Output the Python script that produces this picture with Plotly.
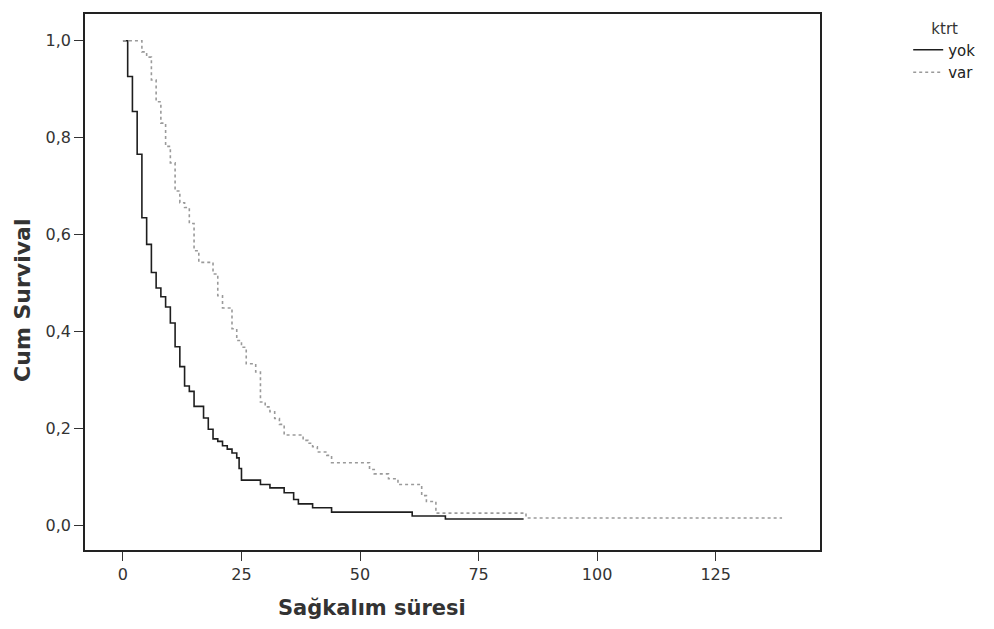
import plotly.graph_objects as go

# Kaplan-Meier step data
yok_time = [0, 1, 2, 3, 4, 5, 6, 7, 8, 9, 10, 11, 12, 13, 14, 15, 17, 18, 19, 20,
            21, 22, 23, 24, 24.5, 25, 29, 31, 34, 36, 37, 40, 44, 61, 68, 84.5]
yok_surv = [1.0, 0.926, 0.854, 0.766, 0.635, 0.580, 0.522, 0.490, 0.472, 0.451,
            0.418, 0.369, 0.328, 0.288, 0.277, 0.246, 0.222, 0.199, 0.179, 0.174,
            0.165, 0.158, 0.150, 0.140, 0.118, 0.094, 0.085, 0.078, 0.068, 0.054,
            0.045, 0.037, 0.028, 0.020, 0.014, 0.014]

var_time = [0, 4, 5, 6, 7, 8, 9, 10, 11, 12, 13, 14, 15, 16, 19, 20, 21, 23, 24,
            25, 26, 28, 29, 30, 31, 32, 33, 34, 38, 39, 40, 41, 43, 44, 52, 53,
            56, 58, 63, 64, 66, 85, 139]
var_surv = [1.0, 0.977, 0.966, 0.919, 0.874, 0.830, 0.782, 0.748, 0.690, 0.666,
            0.656, 0.623, 0.567, 0.543, 0.519, 0.474, 0.449, 0.406, 0.382, 0.368,
            0.334, 0.317, 0.255, 0.245, 0.235, 0.221, 0.209, 0.187, 0.176, 0.170,
            0.163, 0.152, 0.145, 0.130, 0.116, 0.107, 0.097, 0.085, 0.062, 0.050,
            0.026, 0.016, 0.016]

x_ticks = [0, 25, 50, 75, 100, 125]
y_ticks = [0.0, 0.2, 0.4, 0.6, 0.8, 1.0]

fig = go.Figure()
fig.add_trace(go.Scatter(x=yok_time, y=yok_surv, mode="lines", name="yok",
                         line=dict(shape="hv", color="#1e1e1e", width=1.6)))
fig.add_trace(go.Scatter(x=var_time, y=var_surv, mode="lines", name="var",
                         line=dict(shape="hv", color="#9a9a9a", width=1.6, dash="dot")))

FONT = "DejaVu Sans, Verdana, sans-serif"
axis_font = dict(family=FONT, size=16, color="#333333")

# page body has an 8px margin, so the figure is sized to fit inside the window
fig.update_layout(
    width=978, height=613,
    paper_bgcolor="white", plot_bgcolor="white",
    margin=dict(l=77, r=166, t=4, b=71),
    separators=",.",
    showlegend=True,
    legend=dict(
        x=1.12, y=1.0, xanchor="left", yanchor="top",
        title=dict(text="ktrt", side="top center",
                   font=dict(family=FONT, size=15, color="#333")),
        font=dict(family=FONT, size=15, color="#222"),
        tracegroupgap=0, itemwidth=30,
        bgcolor="rgba(0,0,0,0)",
    ),
    xaxis=dict(
        range=[-8, 147], tickvals=x_ticks, ticktext=[str(v) for v in x_ticks],
        showgrid=False, zeroline=False, showline=True, linecolor="#222",
        linewidth=1.5, mirror=True, ticks="outside", ticklen=9, tickcolor="#333",
        tickfont=axis_font,
    ),
    yaxis=dict(
        range=[-0.05, 1.055], tickvals=y_ticks, tickformat=".1f",
        showgrid=False, zeroline=False, showline=True, linecolor="#222",
        linewidth=1.5, mirror=True, ticks="outside", ticklen=9, tickcolor="#333",
        tickfont=axis_font,
    ),
    annotations=[
        dict(text="<b>Sağkalım süresi</b>", xref="paper", yref="paper",
             x=(372 - 85) / 735, y=(550 - 608) / 538, xanchor="center", yanchor="middle",
             showarrow=False,
             font=dict(family=FONT, size=21, color="#333")),
        dict(text="<b>Cum Survival</b>", xref="paper", yref="paper",
             x=(23 - 85) / 735, y=(550 - 300) / 538, xanchor="center", yanchor="middle",
             textangle=-90, showarrow=False,
             font=dict(family=FONT, size=22, color="#333")),
    ],
)

fig.write_html("out.html")
